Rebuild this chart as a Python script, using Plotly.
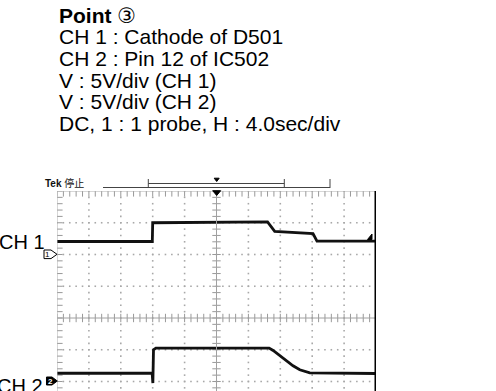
import numpy as np
import plotly.graph_objects as go

# ---- waveform data (time in seconds, amplitude in volts) ----
# CH 1 : Cathode of D501, 5 V/div, ground reference at +2 div
ch1_time = [-20.0, -8.05, -8.0, 0.0, 6.4, 7.3, 12.1, 12.6, 20.0]
ch1_volts = [2.05, 2.05, 5.0, 5.05, 5.15, 3.65, 3.3, 2.1, 2.1]
# CH 2 : Pin 12 of IC502, 5 V/div, ground reference at -2 div
ch2_time = [-20.0, -8.07, -7.98, -7.9, -7.6, 6.6, 7.1, 7.94, 8.78, 9.6,
            10.44, 11.28, 11.7, 20.0]
ch2_volts = [1.3, 1.3, -0.25, 5.0, 5.25, 5.25, 4.88, 4.05, 3.2, 2.47,
             1.84, 1.46, 1.37, 1.26]

VOLTS_PER_DIV = 5.0
SEC_PER_DIV = 4.0
CH1_GROUND_DIV = 2.0
CH2_GROUND_DIV = -2.0

header_lines = [
    "<b>Point</b> ③",
    "CH 1 : Cathode of D501",
    "CH 2 : Pin 12 of IC502",
    "V : 5V/div (CH 1)",
    "V : 5V/div (CH 2)",
    "DC, 1 : 1 probe, H : 4.0sec/div",
]

W, H = 496, 391
PL, PR, PT, PB = 57, 376, 191, 391  # plot area in page pixels
X_RANGE = [-20, 20]
Y_RANGE = [4 - (PB - PT) / 31.75, 4]

FONT = "Liberation Sans, Arial, DejaVu Sans, Noto Sans CJK SC"


def xp(px):
    return (px - PL) / (PR - PL)


def yp(py):
    return (PB - py) / (PB - PT)


def path(points):
    return "M " + " L ".join(f"{xp(a):.5f} {yp(b):.5f}" for a, b in points) + " Z"


fig = go.Figure()

# ---- graticule ----
grid_x = [X_RANGE[0] + SEC_PER_DIV * k for k in range(1, 10) if k != 5]
grid_y = [3, 2, 1, -1, -2]
fine_x = np.arange(X_RANGE[0], X_RANGE[1] + 1e-9, SEC_PER_DIV / 5)
fine_y = np.arange(-4, 4 + 1e-9, 0.2)

dx, dy = [], []
for gx in grid_x:
    dx += [gx] * len(fine_y)
    dy += list(fine_y)
for gy in grid_y:
    dx += list(fine_x)
    dy += [gy] * len(fine_x)
fig.add_trace(go.Scatter(x=dx, y=dy, mode="markers", hoverinfo="skip",
                         marker=dict(symbol="square", size=1.6, color="#a8a8a8",
                                     line=dict(width=0))))

# center cross lines
fig.add_shape(type="line", xref="x", yref="y", x0=X_RANGE[0], x1=X_RANGE[1], y0=0, y1=0,
              line=dict(color="#a0a0a0", width=1))
fig.add_shape(type="line", xref="x", yref="paper", x0=0, x1=0, y0=0, y1=1,
              line=dict(color="#a0a0a0", width=1))
# left and top borders
fig.add_shape(type="line", xref="x", yref="paper", x0=X_RANGE[0], x1=X_RANGE[0], y0=0, y1=1,
              line=dict(color="#b0b0b0", width=1))
fig.add_shape(type="line", xref="x", yref="y", x0=X_RANGE[0], x1=X_RANGE[1], y0=4, y1=4,
              line=dict(color="#b0b0b0", width=1))

tick_line = dict(color="#999999", width=1)
# minor ticks on the center lines
fig.add_trace(go.Scatter(x=fine_x, y=[0] * len(fine_x), mode="markers", hoverinfo="skip",
                         marker=dict(symbol="line-ns", size=6, line=tick_line)))
fig.add_trace(go.Scatter(x=[0] * len(fine_y), y=fine_y, mode="markers", hoverinfo="skip",
                         marker=dict(symbol="line-ew", size=6, line=tick_line)))
# minor ticks hanging from the top border and the left border
fig.add_trace(go.Scatter(x=fine_x, y=[4] * len(fine_x), mode="markers", hoverinfo="skip",
                         marker=dict(symbol="line-ns", size=8, line=tick_line)))
fig.add_trace(go.Scatter(x=[X_RANGE[0]] * len(fine_y), y=fine_y, mode="markers",
                         hoverinfo="skip",
                         marker=dict(symbol="line-ew", size=8, line=tick_line)))

# ---- traces ----
ch1_div = [CH1_GROUND_DIV + v / VOLTS_PER_DIV for v in ch1_volts]
ch2_div = [CH2_GROUND_DIV + v / VOLTS_PER_DIV for v in ch2_volts]
fig.add_trace(go.Scatter(x=ch1_time, y=ch1_div, mode="lines", name="CH 1",
                         line=dict(color="#111111", width=2.8)))
fig.add_trace(go.Scatter(x=ch2_time, y=ch2_div, mode="lines", name="CH 2",
                         line=dict(color="#111111", width=2.8)))

# right edge of the screen
fig.add_shape(type="line", xref="x", yref="paper", x0=X_RANGE[1], x1=X_RANGE[1], y0=0, y1=1,
              line=dict(color="#000000", width=3))

# ---- scope screen decorations ----
shapes_px = [
    # trigger position marker on top of the screen
    dict(points=[(212.7, 190.7), (220.7, 190.7), (216.7, 195.5)], fill="#000", line="#000"),
    # small trigger marker above the record bar
    dict(points=[(214.2, 178.2), (219.2, 178.2), (216.7, 181.5)], fill="#000", line="#000"),
    # channel 1 ground marker
    dict(points=[(44, 250), (51, 250), (57, 254.3), (51, 258.6), (44, 258.6)],
         fill="#fff", line="#000"),
    # channel 2 ground marker
    dict(points=[(46.5, 377), (52, 377), (57.3, 381), (52, 385), (46.5, 385)],
         fill="#000", line="#000"),
    # trigger level marker
    dict(points=[(367.5, 239.5), (372, 234), (372, 239.5)], fill="#000", line="#000"),
]
for s in shapes_px:
    fig.add_shape(type="path", xref="paper", yref="paper", path=path(s["points"]),
                  fillcolor=s["fill"], line=dict(color=s["line"], width=1))

bar = dict(color="#444444", width=1)
for (x0, y0, x1, y1) in [(103, 187.5, 330, 187.5), (330, 179, 330, 188),
                         (148.3, 183.5, 284.3, 183.5), (148.3, 179, 148.3, 188),
                         (284.3, 179, 284.3, 188)]:
    fig.add_shape(type="line", xref="paper", yref="paper",
                  x0=xp(x0), x1=xp(x1), y0=yp(y0), y1=yp(y1), line=bar)

# ---- text ----
annotations = []
for i, line in enumerate(header_lines):
    annotations.append(dict(text=line, x=xp(57), y=yp(15 + 21.7 * i), xanchor="left",
                            yanchor="middle",
                            font=dict(family=FONT, size=21, color="#000")))
annotations += [
    dict(text="<b>Tek</b> 停止", x=xp(43), y=yp(183), xanchor="left", yanchor="middle",
         font=dict(family=FONT, size=10, color="#111")),
    dict(text="CH 1", x=xp(47), y=yp(241.5), xanchor="right", yanchor="middle",
         font=dict(family=FONT, size=20, color="#000")),
    dict(text="CH 2", x=xp(45), y=yp(386), xanchor="right", yanchor="middle",
         font=dict(family=FONT, size=20, color="#000")),
    dict(text="1", x=xp(47.7), y=yp(254.4), xanchor="center", yanchor="middle",
         font=dict(family=FONT, size=8, color="#000")),
    dict(text="<b>2</b>", x=xp(50), y=yp(381.2), xanchor="center", yanchor="middle",
         font=dict(family=FONT, size=8, color="#fff")),
]
for a in annotations:
    a["xref"] = "paper"
    a["yref"] = "paper"
    a["showarrow"] = False
fig.update_layout(annotations=annotations)

fig.update_layout(
    width=W, height=H,
    margin=dict(l=PL, r=W - PR, t=PT, b=H - PB),
    paper_bgcolor="white", plot_bgcolor="white",
    showlegend=False,
    xaxis=dict(range=X_RANGE, visible=False, fixedrange=True),
    yaxis=dict(range=Y_RANGE, visible=False, fixedrange=True),
)

fig.write_html("out.html")
